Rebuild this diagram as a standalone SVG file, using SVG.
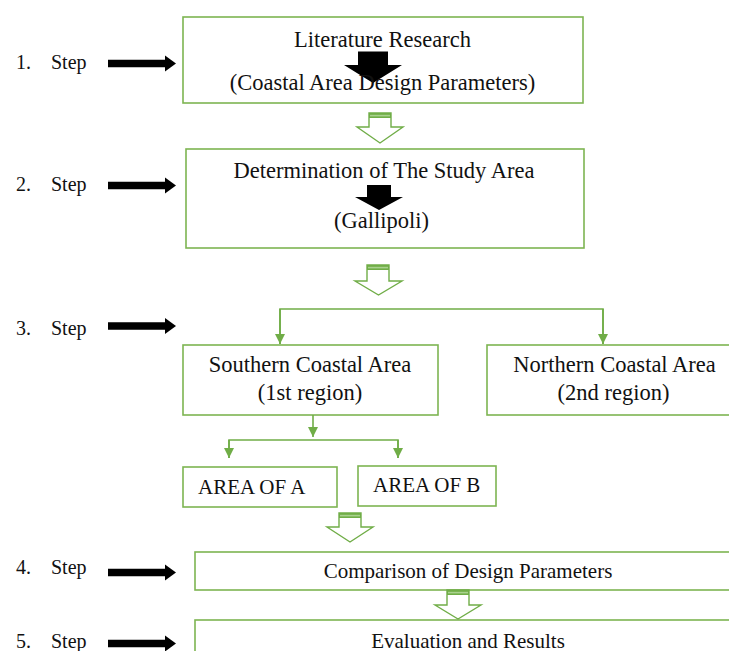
<svg xmlns="http://www.w3.org/2000/svg" width="729" height="651" viewBox="0 0 729 651">
<style>
  .box { fill: #ffffff; stroke: #7db552; stroke-width: 1.6; }
  .t { font-family: "Liberation Serif", "Times New Roman", serif; fill: #111111; }
  .big { font-size: 22.5px; text-anchor: middle; }
  .mid { font-size: 21px; }
  .step { font-size: 20px; }
  .ln { fill: none; stroke: #70ad47; stroke-width: 1.6; }
  .hollow { fill: #ffffff; stroke: #70ad47; stroke-width: 1.4; stroke-linejoin: miter; }
  .bar { fill: #70ad47; }
  .barin { fill: #a9d18e; }
  .blk { fill: #000000; }
</style>
<defs>
  <marker id="gh" viewBox="0 0 10 10" refX="10" refY="5" markerWidth="10" markerHeight="10" markerUnits="userSpaceOnUse" orient="auto">
    <path d="M0,0 L10,5 L0,10 Z" fill="#70ad47"/>
  </marker>
  <polygon id="steparrow" points="0,-3.8 57,-3.8 57,-8 68,0 57,8 57,3.8 0,3.8"/>
</defs>
<rect width="729" height="651" fill="#ffffff"/>

<g id="steps">
  <g id="step1">
    <text class="t step" x="16" y="69">1.</text>
    <text class="t step" x="51" y="69">Step</text>
    <use href="#steparrow" class="blk" transform="translate(108,63.5)"/>
  </g>
  <g id="step2">
    <text class="t step" x="16" y="191">2.</text>
    <text class="t step" x="51" y="191">Step</text>
    <use href="#steparrow" class="blk" transform="translate(108,185.5)"/>
  </g>
  <g id="step3">
    <text class="t step" x="16" y="335">3.</text>
    <text class="t step" x="51" y="335">Step</text>
    <use href="#steparrow" class="blk" transform="translate(108,326)"/>
  </g>
  <g id="step4">
    <text class="t step" x="16" y="574">4.</text>
    <text class="t step" x="51" y="574">Step</text>
    <use href="#steparrow" class="blk" transform="translate(108,572.5)"/>
  </g>
  <g id="step5">
    <text class="t step" x="16" y="648">5.</text>
    <text class="t step" x="51" y="648">Step</text>
    <use href="#steparrow" class="blk" transform="translate(108,643.5)"/>
  </g>
</g>

<g id="box1">
  <rect class="box" x="183" y="17" width="400" height="86"/>
  <text class="t big" x="382.5" y="47">Literature Research</text>
  <polygon class="blk" points="358,51.5 388,51.5 388,65 402,65 373,83 344,65 358,65"/>
  <text class="t big" x="382.5" y="90">(Coastal Area Design Parameters)</text>
</g>

<g id="box2">
  <rect class="box" x="186" y="149" width="398" height="99"/>
  <text class="t big" x="384" y="178">Determination of The Study Area</text>
  <polygon class="blk" points="367,185 391,185 391,197 403,197 379,210 355,197 367,197"/>
  <text class="t big" x="381.5" y="228">(Gallipoli)</text>
</g>

<g id="southern">
  <rect class="box" x="183" y="345" width="255" height="70"/>
  <text class="t big" x="310" y="372">Southern Coastal Area</text>
  <text class="t big" x="310" y="400">(1st region)</text>
</g>

<g id="northern">
  <rect class="box" x="487" y="345" width="258" height="70"/>
  <text class="t big" x="614.5" y="372">Northern Coastal Area</text>
  <text class="t big" x="613.5" y="400">(2nd region)</text>
</g>

<g id="areaA">
  <rect class="box" x="183" y="467" width="154" height="40"/>
  <text class="t mid" x="198" y="494">AREA OF A</text>
</g>

<g id="areaB">
  <rect class="box" x="358" y="466" width="138" height="40"/>
  <text class="t mid" x="373" y="492">AREA OF B</text>
</g>

<g id="comparison">
  <rect class="box" x="195" y="552" width="545" height="38"/>
  <text class="t mid" x="468" y="578" text-anchor="middle">Comparison of Design Parameters</text>
</g>

<g id="evaluation">
  <rect class="box" x="195" y="620" width="545" height="40"/>
  <text class="t mid" x="468" y="648" text-anchor="middle">Evaluation and Results</text>
</g>

<g id="connectors">
  <!-- hollow block arrows -->
  <g id="hollowA">
    <polygon class="hollow" points="369,113 391,113 391,127 403,127 380,143 357,127 369,127"/>
    <rect class="bar" x="369" y="113" width="22" height="5"/>
    <rect class="barin" x="370" y="114.8" width="20" height="1.6"/>
  </g>
  <g id="hollowB">
    <polygon class="hollow" points="367,265 389,265 389,281 402,281 378.5,295 355,281 367,281"/>
    <rect class="bar" x="367" y="265" width="22" height="5"/>
    <rect class="barin" x="368" y="266.8" width="20" height="1.6"/>
  </g>
  <g id="hollowC">
    <polygon class="hollow" points="339,513 361,513 361,527 373,527 350,542 327,527 339,527"/>
    <rect class="bar" x="339" y="513" width="22" height="5"/>
    <rect class="barin" x="340" y="514.8" width="20" height="1.6"/>
  </g>
  <g id="hollowD">
    <polygon class="hollow" points="447,590 469,590 469,605 481,605 458,619 435,605 447,605"/>
    <rect class="bar" x="447" y="590" width="22" height="5"/>
    <rect class="barin" x="448" y="591.8" width="20" height="1.6"/>
  </g>
  <!-- branch to regions -->
  <path class="ln" d="M280,344 V309 H603 V344"/>
  <path class="ln" d="M280,309 V344" marker-end="url(#gh)"/>
  <path class="ln" d="M603,309 V344" marker-end="url(#gh)"/>
  <!-- branch to areas -->
  <path class="ln" d="M313,415 V437" marker-end="url(#gh)"/>
  <path class="ln" d="M229,458 V440 H398 V458"/>
  <path class="ln" d="M229,440 V458" marker-end="url(#gh)"/>
  <path class="ln" d="M398,440 V458" marker-end="url(#gh)"/>
</g>
</svg>
